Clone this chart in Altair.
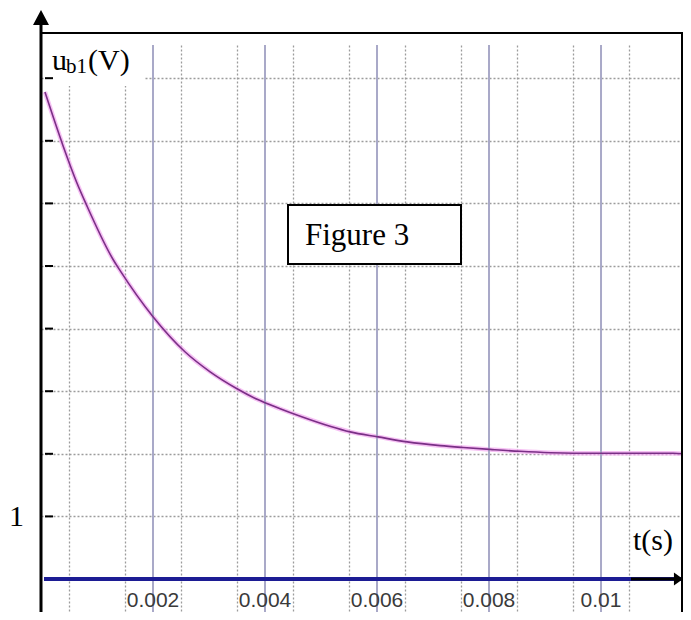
import altair as alt
import pandas as pd

# ---- data ----
t_s = [0.00007, 0.00039, 0.00064, 0.00082, 0.00129, 0.00141, 0.00200, 0.00257,
       0.00302, 0.00350, 0.00386, 0.00427, 0.00463, 0.00516, 0.00552, 0.00602,
       0.00654, 0.00713, 0.00754, 0.00802, 0.00855, 0.00950, 0.01040, 0.01129,
       0.01159]
u_v = [7.78, 6.93, 6.33, 5.96, 5.10, 4.93, 4.19, 3.63,
       3.31, 3.04, 2.87, 2.72, 2.60, 2.44, 2.35, 2.27,
       2.19, 2.13, 2.10, 2.07, 2.04, 2.01, 2.01, 2.01,
       1.99]
major_t = [0.002, 0.004, 0.006, 0.008, 0.010]
minor_t = [0.0005, 0.001, 0.0015, 0.002, 0.0025, 0.003, 0.0035, 0.004, 0.0045,
           0.005, 0.0055, 0.006, 0.0065, 0.007, 0.0075, 0.008, 0.0085, 0.009,
           0.0095, 0.010, 0.0105, 0.011]
x_label_values = [0.002, 0.004, 0.006, 0.008, 0.010]
x_label_text = ["0.002", "0.004", "0.006", "0.008", "0.01"]
y_ticks = [1, 2, 3, 4, 5, 6, 7, 8]
y_label_values = [1]
y_label_text = ["1"]
zero_line = [0]

W, H = 642, 567
xs = alt.Scale(domain=[0, 0.011464], nice=False, zero=False)
ys = alt.Scale(domain=[-0.527, 8.53], nice=False, zero=False)
SERIF = "Liberation Serif, Times New Roman, serif"
SANS = "Liberation Sans Narrow, Liberation Sans, Arial, sans-serif"

curve = pd.DataFrame({"t": t_s, "u": u_v})
dummy = pd.DataFrame({"k": [0]})

x_enc = alt.X("t:Q", scale=xs,
              axis=alt.Axis(values=minor_t, grid=True, gridDash=[2, 2], gridColor="#9c9c9c",
                            gridWidth=1.3, labels=False, ticks=False, domain=False, title=None))
y_enc = alt.Y("u:Q", scale=ys,
              axis=alt.Axis(values=y_ticks, grid=True, gridDash=[2, 2], gridColor="#9c9c9c",
                            gridWidth=1.3, labels=False, ticks=False, domain=False, title=None))

halo = alt.Chart(curve).mark_line(color="#f2a6f0", strokeWidth=4.5, opacity=0.7, clip=True,
                                  interpolate="monotone").encode(x=x_enc, y=y_enc)
line = alt.Chart(curve).mark_line(color="#7a2f86", strokeWidth=1.6, clip=True,
                                  interpolate="monotone").encode(
    x=alt.X("t:Q", scale=xs), y=alt.Y("u:Q", scale=ys))

majors = alt.Chart(pd.DataFrame({"t": major_t})).mark_rule(color="#a9a9c8", strokeWidth=2).encode(
    x=alt.X("t:Q", scale=xs))

white_lab = alt.Chart(dummy).mark_rect(fill="white").encode(
    x=alt.value(3), x2=alt.value(104), y=alt.value(-12), y2=alt.value(41))
white_t = alt.Chart(dummy).mark_rect(fill="white").encode(
    x=alt.value(590), x2=alt.value(641), y=alt.value(482), y2=alt.value(523))

blue = alt.Chart(pd.DataFrame({"u": zero_line})).mark_rule(color="#1c1c94", strokeWidth=4).encode(
    y=alt.Y("u:Q", scale=ys), x=alt.value(3), x2=alt.value(W))

ticks = alt.Chart(pd.DataFrame({"u": y_ticks})).mark_rule(color="black", strokeWidth=2).encode(
    y=alt.Y("u:Q", scale=ys), x=alt.value(4), x2=alt.value(12))

# frame / axes arrows (decoration)
t_arrow_line = alt.Chart(dummy).mark_rule(color="black", strokeWidth=3).encode(
    x=alt.value(590), x2=alt.value(634), y=alt.value(534))
t_arrow_head = alt.Chart(dummy).mark_point(shape="M-0.7,-1L-0.7,1L0.7,0Z", size=169, filled=True,
                                           color="black", opacity=1).encode(
    x=alt.value(637.5), y=alt.value(534))
y_axis_line = alt.Chart(dummy).mark_rule(color="black", strokeWidth=3).encode(
    x=alt.value(0), y=alt.value(-22), y2=alt.value(H))
y_arrow_head = alt.Chart(dummy).mark_point(shape="M-1,0.94L1,0.94L0,-0.94Z", size=256, filled=True,
                                           color="black", opacity=1).encode(
    x=alt.value(0), y=alt.value(-27.5))
top_border = alt.Chart(dummy).mark_rule(color="black", strokeWidth=2).encode(
    x=alt.value(-1), x2=alt.value(W), y=alt.value(-12))
right_border = alt.Chart(dummy).mark_rule(color="black", strokeWidth=2).encode(
    x=alt.value(W - 1), y=alt.value(-12), y2=alt.value(H))

fig_box = alt.Chart(dummy).mark_rect(fill="white", stroke="black", strokeWidth=2).encode(
    x=alt.value(247), x2=alt.value(420), y=alt.value(160), y2=alt.value(219))
fig_text = alt.Chart(dummy).mark_text(text="Figure 3", font=SERIF, fontSize=31, align="left",
                                      baseline="alphabetic", color="black").encode(
    x=alt.value(264), y=alt.value(200))

u_txt = alt.Chart(dummy).mark_text(text="u", font=SERIF, fontSize=30, align="left",
                                   baseline="alphabetic", color="black").encode(x=alt.value(11), y=alt.value(25))
b1_txt = alt.Chart(dummy).mark_text(text="b1", font=SERIF, fontSize=21, align="left",
                                    baseline="alphabetic", color="black").encode(x=alt.value(25), y=alt.value(28))
v_txt = alt.Chart(dummy).mark_text(text="(V)", font=SERIF, fontSize=30, align="left",
                                   baseline="alphabetic", color="black").encode(x=alt.value(47), y=alt.value(25))
ts_txt = alt.Chart(dummy).mark_text(text="t(s)", font=SERIF, fontSize=30, align="left",
                                    baseline="alphabetic", color="black").encode(x=alt.value(592), y=alt.value(505))

one_txt = alt.Chart(pd.DataFrame({"u": y_label_values, "lab": y_label_text})).mark_text(
    font=SERIF, fontSize=30, align="left", baseline="alphabetic", dy=10, color="black").encode(
    y=alt.Y("u:Q", scale=ys), x=alt.value(-32), text="lab:N")

x_labels = alt.Chart(pd.DataFrame({"t": x_label_values, "lab": x_label_text})).mark_text(
    font=SANS, fontSize=21, align="center", baseline="bottom", color="#3a3a3a").encode(
    x=alt.X("t:Q", scale=xs), y=alt.value(H - 1), text="lab:N")

chart = alt.layer(
    halo, majors, white_lab, white_t, line, blue, x_labels, ticks,
    t_arrow_line, t_arrow_head, y_axis_line, y_arrow_head, top_border, right_border,
    fig_box, fig_text, u_txt, b1_txt, v_txt, ts_txt, one_txt
).properties(
    width=W, height=H,
    padding={"left": 33, "top": 37, "right": 0, "bottom": 0},
    autosize=alt.AutoSizeParams(type="none"),
    background="white",
).configure_view(stroke=None)

chart.save("out.html", embed_options={"renderer": "svg", "actions": False})
